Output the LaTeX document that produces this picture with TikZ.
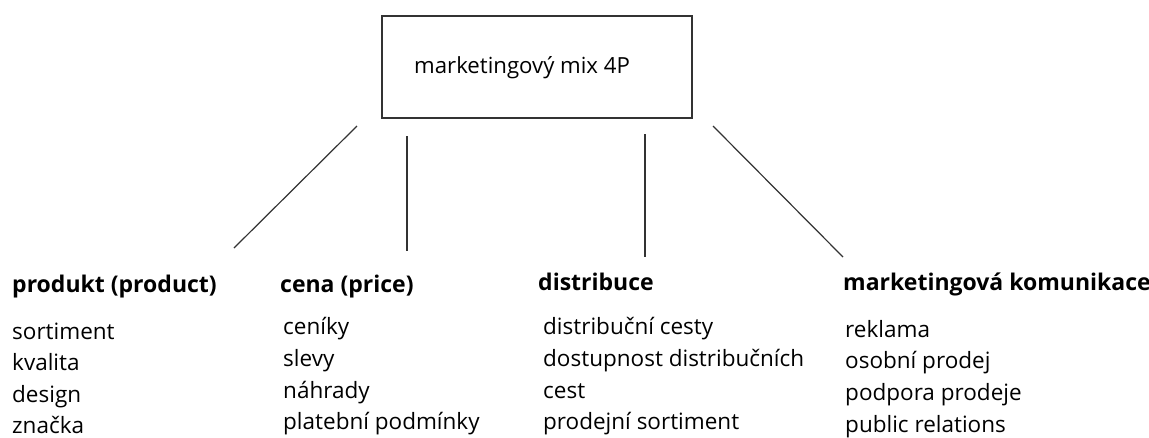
\documentclass[tikz,border=0pt]{standalone}
\usepackage{fontspec}
\setmainfont{Open Sans}
\begin{document}
\begin{tikzpicture}[x=1pt,y=-1pt,
  item/.style={anchor=base west,inner sep=0pt,font=\fontsize{22.5}{27}\selectfont},
  head/.style={anchor=base west,inner sep=0pt,font=\fontsize{23}{27}\selectfont\bfseries},
  link/.style={line width=1.2pt,draw=black!80}]
\useasboundingbox (0,0) rectangle (1149,437);
% top box
\draw[line width=1.6pt,draw=black!80] (382,16) rectangle (692,118);
\node[item,font=\fontsize{22.2}{26}\selectfont] (mix) at (414,73) {marketingový mix 4P};
% connector end points
\coordinate (a1) at (357,126); \coordinate (b1) at (234,248);
\coordinate (a2) at (407,136); \coordinate (b2) at (407,251);
\coordinate (a3) at (645,134); \coordinate (b3) at (645,257);
\coordinate (a4) at (713,126); \coordinate (b4) at (843,257);
\draw[link] (a1) -- (b1);
\draw[link] (a2) -- (b2);
\draw[link] (a3) -- (b3);
\draw[link] (a4) -- (b4);
% column 1
\node[head] (h1) at (12,292) {produkt (product)};
\node[item] (p1) at (12,339) {sortiment};
\node[item] (p2) at (12,370) {kvalita};
\node[item] (p3) at (12,402) {design};
\node[item] (p4) at (12,433) {značka};
% column 2
\node[head] (h2) at (280,292) {cena (price)};
\node[item] (c1) at (283,334) {ceníky};
\node[item] (c2) at (283,366) {slevy};
\node[item] (c3) at (283,398) {náhrady};
\node[item] (c4) at (283,429) {platební podmínky};
% column 3
\node[head] (h3) at (538,290) {distribuce};
\node[item] (d1) at (543,334) {distribuční cesty};
\node[item] (d2) at (543,366) {dostupnost distribučních};
\node[item] (d3) at (543,398) {cest};
\node[item] (d4) at (543,429) {prodejní sortiment};
% column 4
\node[head] (h4) at (843,290) {marketingová komunikace};
\node[item] (k1) at (845,337) {reklama};
\node[item] (k2) at (845,368) {osobní prodej};
\node[item] (k3) at (845,400) {podpora prodeje};
\node[item] (k4) at (845,432) {public relations};
\end{tikzpicture}
\end{document}
